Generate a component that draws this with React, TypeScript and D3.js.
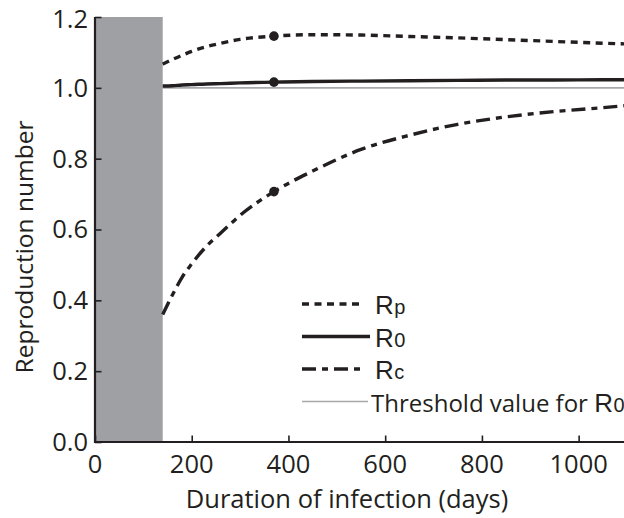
import React, { useEffect, useRef } from "react";
import * as d3 from "d3";

// days since infection where curves are sampled
const days = [140, 160, 180, 200, 230, 260, 300, 370, 450, 550, 650, 750, 850, 950, 1050, 1100];
const rpValues = [1.067, 1.08, 1.092, 1.103, 1.116, 1.126, 1.137, 1.146, 1.15, 1.149, 1.145, 1.141, 1.136, 1.131, 1.126, 1.124];
const r0Values = [1.005, 1.006, 1.008, 1.009, 1.011, 1.012, 1.014, 1.016, 1.018, 1.019, 1.02, 1.021, 1.022, 1.022, 1.023, 1.023];
const rcValues = [0.36, 0.415, 0.465, 0.503, 0.552, 0.59, 0.64, 0.707, 0.765, 0.826, 0.866, 0.897, 0.918, 0.933, 0.944, 0.95];

const markerDay = 370;
const thresholdValue = 1.0;
const shadedUntil = 140;

const xTicks = [0, 200, 400, 600, 800, 1000];
const yTicks = [0, 0.2, 0.4, 0.6, 0.8, 1.0, 1.2];

const INK = "#231f20";
const FONT = "'Open Sans', sans-serif";
const LEGEND_FONT = "'Liberation Sans', sans-serif";

const App = () => {
    const ref = useRef<SVGSVGElement>(null);

    useEffect(() => {
        const svg = d3.select(ref.current);
        svg.selectAll("*").remove();

        const width = 624;

        const x = d3.scaleLinear().domain([0, 1100]).range([95, 627]);
        const y = d3.scaleLinear().domain([0, 1.2]).range([442, 17]);

        // grey band for the early period
        svg.append("rect")
            .attr("x", x(0))
            .attr("y", y(1.2))
            .attr("width", x(shadedUntil) - x(0))
            .attr("height", y(0) - y(1.2))
            .attr("fill", "#9fa0a4");

        // threshold line
        svg.append("line")
            .attr("x1", x(shadedUntil))
            .attr("x2", x(1100))
            .attr("y1", y(thresholdValue))
            .attr("y2", y(thresholdValue))
            .attr("stroke", "#a7a8ab")
            .attr("stroke-width", 1.6);

        const series = [
            { name: "p", values: rpValues, dash: "7,5.5", width: 3.4 },
            { name: "0", values: r0Values, dash: null, width: 3.4 },
            { name: "c", values: rcValues, dash: "14,6,6,6", width: 3.4 },
        ];

        const line = d3
            .line<number>()
            .x((d, i) => x(days[i]))
            .y((d) => y(d))
            .curve(d3.curveMonotoneX);

        series.forEach((s) => {
            svg.append("path")
                .datum(s.values)
                .attr("d", line)
                .attr("fill", "none")
                .attr("stroke", INK)
                .attr("stroke-width", s.width)
                .attr("stroke-dasharray", s.dash);
        });

        // markers
        const mi = days.indexOf(markerDay);
        svg.append("g")
            .selectAll("circle")
            .data(series)
            .join("circle")
            .attr("cx", x(markerDay))
            .attr("cy", (s) => y(s.values[mi]))
            .attr("r", 4.8)
            .attr("fill", INK);

        // x axis
        const gx = svg.append("g").attr("transform", `translate(0,${y(0)})`);
        gx.call(
            d3.axisBottom(x).tickValues(d3.range(0, 1101, 50)).tickSize(-3.5).tickFormat(() => "")
        );
        gx.call(d3.axisBottom(x).tickValues(xTicks).tickSize(-6.5).tickFormat(() => ""));
        gx.selectAll(".domain").remove();
        gx.selectAll("line").attr("stroke", INK).attr("stroke-width", 1.6);
        gx.append("line")
            .attr("x1", x(0) - 1)
            .attr("x2", width)
            .attr("stroke", INK)
            .attr("stroke-width", 2.2);
        gx.append("g")
            .selectAll("text")
            .data(xTicks)
            .join("text")
            .attr("x", (d) => x(d))
            .attr("y", 31)
            .attr("text-anchor", "middle")
            .attr("font-family", FONT)
            .attr("font-size", 25.5)
            .attr("fill", INK)
            .text((d) => d);

        // y axis
        const gy = svg.append("g").attr("transform", `translate(${x(0)},0)`);
        gy.call(
            d3.axisLeft(y).tickValues(d3.range(0, 1.2001, 0.05)).tickSize(-3.5).tickFormat(() => "")
        );
        gy.call(d3.axisLeft(y).tickValues(yTicks).tickSize(-6.5).tickFormat(() => ""));
        gy.selectAll(".domain").remove();
        gy.selectAll("line").attr("stroke", INK).attr("stroke-width", 1.6);
        gy.append("line")
            .attr("y1", y(1.2))
            .attr("y2", y(0) + 1)
            .attr("stroke", INK)
            .attr("stroke-width", 2.2);
        gy.append("g")
            .selectAll("text")
            .data(yTicks)
            .join("text")
            .attr("x", -7)
            .attr("y", (d) => Math.max(y(d), 19))
            .attr("dy", "0.35em")
            .attr("text-anchor", "end")
            .attr("font-family", FONT)
            .attr("font-size", 25.5)
            .attr("fill", INK)
            .text((d) => d.toFixed(1));

        // axis titles
        svg.append("text")
            .attr("x", 347)
            .attr("y", 508)
            .attr("text-anchor", "middle")
            .attr("font-family", FONT)
            .attr("font-size", 25.5)
            .attr("fill", INK)
            .text("Duration of infection (days)");

        svg.append("text")
            .attr("transform", "translate(33,247) rotate(-90)")
            .attr("text-anchor", "middle")
            .attr("font-family", FONT)
            .attr("font-size", 24.5)
            .attr("fill", INK)
            .text("Reproduction number");

        // legend
        const legend = [
            { sub: "p", dash: "7,5.5", color: INK, w: 3.4, len: 60, label: "" },
            { sub: "0", dash: null, color: INK, w: 3.4, len: 68, label: "" },
            { sub: "c", dash: "14,6,6,6", color: INK, w: 3.4, len: 60, label: "" },
            { sub: "0", dash: null, color: "#a7a8ab", w: 1.6, len: 66, label: "Threshold value for " },
        ];
        const lg = svg.append("g").attr("transform", "translate(302,0)");
        legend.forEach((d, i) => {
            const ly = 304 + i * 32.5;
            lg.append("line")
                .attr("x1", 0)
                .attr("x2", d.len)
                .attr("y1", ly)
                .attr("y2", ly)
                .attr("stroke", d.color)
                .attr("stroke-width", d.w)
                .attr("stroke-dasharray", d.dash);
            const t = lg.append("text")
                .attr("x", d.label ? d.len + 3 : 73)
                .attr("y", ly + 10)
                .attr("font-family", d.label ? FONT : LEGEND_FONT)
                .attr("font-size", d.label ? 24 : 27)
                .attr("fill", INK);
            if (d.label) t.append("tspan").text(d.label);
            t.append("tspan").attr("font-family", LEGEND_FONT).attr("font-size", 26).text("R");
            t.append("tspan")
                .attr("font-family", LEGEND_FONT)
                .attr("font-size", 20)
                .attr("dx", 0.5)
                .text(d.sub);
        });
    }, []);

    return (
        <svg
            ref={ref}
            width={624}
            height={518}
            style={{ position: "absolute", left: 0, top: 0, background: "#fff" }}
        ></svg>
    );
};

export default App;
